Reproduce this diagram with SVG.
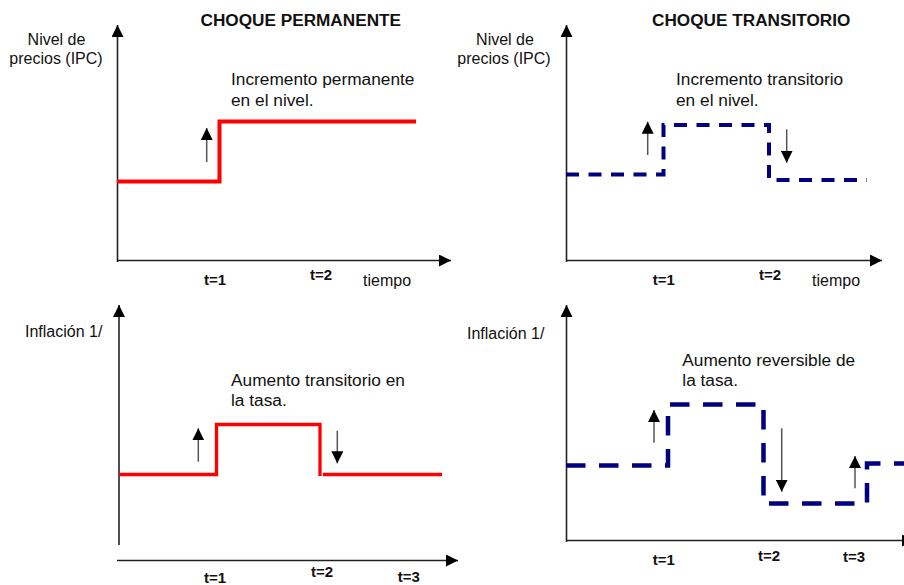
<svg xmlns="http://www.w3.org/2000/svg" width="904" height="585" viewBox="0 0 904 585">
<style>
  text { font-family: "Liberation Sans", Arial, sans-serif; fill: #111; }
  .title { font-size: 17.2px; font-weight: bold; }
  .lab { font-size: 16px; }
  .ann { font-size: 17.3px; }
  .t { font-size: 15px; font-weight: bold; }
  .axis { stroke: #222; stroke-width: 1.6; fill: none; marker-end: url(#axhead); }
  .sarrow { stroke: #555; stroke-width: 1.5; fill: none; marker-end: url(#head); }
  .red4 { stroke: #ff0000; stroke-width: 4; fill: none; }
  .red3 { stroke: #ff0000; stroke-width: 3.3; fill: none; }
  .blueA { stroke: #000080; stroke-width: 4; fill: none; stroke-dasharray: 13 9.5; }
  .blueB { stroke: #000080; stroke-width: 4.5; fill: none; stroke-dasharray: 19.5 13.5; }
</style>
<defs>
  <marker id="axhead" markerUnits="userSpaceOnUse" markerWidth="12" markerHeight="12" refX="12" refY="6" orient="auto">
    <path d="M0,0 L12,6 L0,12 Z" fill="#000"/>
  </marker>
  <marker id="head" markerUnits="userSpaceOnUse" markerWidth="12" markerHeight="12" refX="12" refY="6" orient="auto">
    <path d="M0,0 L12,6 L0,12 Z" fill="#000"/>
  </marker>
</defs>
<rect width="904" height="585" fill="#fff"/>

<g id="panel-top-left">
  <text class="title" x="200.5" y="26">CHOQUE PERMANENTE</text>
  <text class="lab" x="56.5" y="45" text-anchor="middle">Nivel de</text>
  <text class="lab" x="56" y="64" text-anchor="middle">precios (IPC)</text>
  <text class="ann" x="231" y="85">Incremento permanente</text>
  <text class="ann" x="231" y="106">en el nivel.</text>
  <text class="t" x="204" y="285">t=1</text>
  <text class="t" x="310" y="280">t=2</text>
  <text class="lab" x="363" y="286">tiempo</text>
</g>
<g id="panel-top-right">
  <text class="title" x="652" y="26">CHOQUE TRANSITORIO</text>
  <text class="lab" x="505" y="45" text-anchor="middle">Nivel de</text>
  <text class="lab" x="504" y="64" text-anchor="middle">precios (IPC)</text>
  <text class="ann" x="676" y="85">Incremento transitorio</text>
  <text class="ann" x="676" y="106">en el nivel.</text>
  <text class="t" x="652.7" y="285">t=1</text>
  <text class="t" x="759" y="280">t=2</text>
  <text class="lab" x="812" y="286">tiempo</text>
</g>
<g id="panel-bottom-left">
  <text class="lab" x="25" y="337">Inflación 1/</text>
  <text class="ann" x="231" y="386">Aumento transitorio en</text>
  <text class="ann" x="231" y="406">la tasa.</text>
  <text class="t" x="204" y="583">t=1</text>
  <text class="t" x="311" y="577">t=2</text>
  <text class="t" x="397.7" y="582">t=3</text>
</g>
<g id="panel-bottom-right">
  <text class="lab" x="467" y="339">Inflación 1/</text>
  <text class="ann" x="682.3" y="366">Aumento reversible de</text>
  <text class="ann" x="682.3" y="386">la tasa.</text>
  <text class="t" x="652.7" y="565">t=1</text>
  <text class="t" x="758" y="560.5">t=2</text>
  <text class="t" x="843" y="562">t=3</text>
</g>

<g id="connectors">
  <!-- axes -->
  <line class="axis" x1="117.5" y1="262" x2="117.5" y2="25"/>
  <line class="axis" x1="117" y1="260.5" x2="451" y2="260.5"/>
  <line class="axis" x1="566.5" y1="262" x2="566.5" y2="25"/>
  <line class="axis" x1="566" y1="260.5" x2="882" y2="260.5"/>
  <line class="axis" x1="119" y1="545" x2="119" y2="305"/>
  <line class="axis" x1="117" y1="560.5" x2="458" y2="560.5"/>
  <line class="axis" x1="566.5" y1="542" x2="566.5" y2="305"/>
  <line class="axis" x1="566" y1="540.5" x2="914" y2="540.5"/>

  <!-- series -->
  <path class="red4" d="M117 181.5 H219.5 V121.5 H416"/>
  <path class="blueA" d="M566 174.5 H663.5 V125 H769 V180 H867"/>
  <path class="red3" d="M119 474.5 H216.5 V424.5 H320 V476 M323 474.5 H442"/>
  <path class="blueB" d="M566 465.5 H668 V404.5 H763.5 V503.5 H867 V463.5 H904"/>

  <!-- small shock arrows -->
  <line class="sarrow" x1="206.7" y1="162" x2="206.7" y2="128"/>
  <line class="sarrow" x1="647.7" y1="155" x2="647.7" y2="121.7"/>
  <line class="sarrow" x1="786.7" y1="129.3" x2="786.7" y2="162.7"/>
  <line class="sarrow" x1="198.3" y1="461.7" x2="198.3" y2="428.3"/>
  <line class="sarrow" x1="337.3" y1="430.7" x2="337.3" y2="463.3"/>
  <line class="sarrow" x1="654" y1="442.7" x2="654" y2="410"/>
  <line class="sarrow" x1="781.7" y1="428.3" x2="781.7" y2="491.7"/>
  <line class="sarrow" x1="855" y1="488.3" x2="855" y2="456"/>
</g>
</svg>
